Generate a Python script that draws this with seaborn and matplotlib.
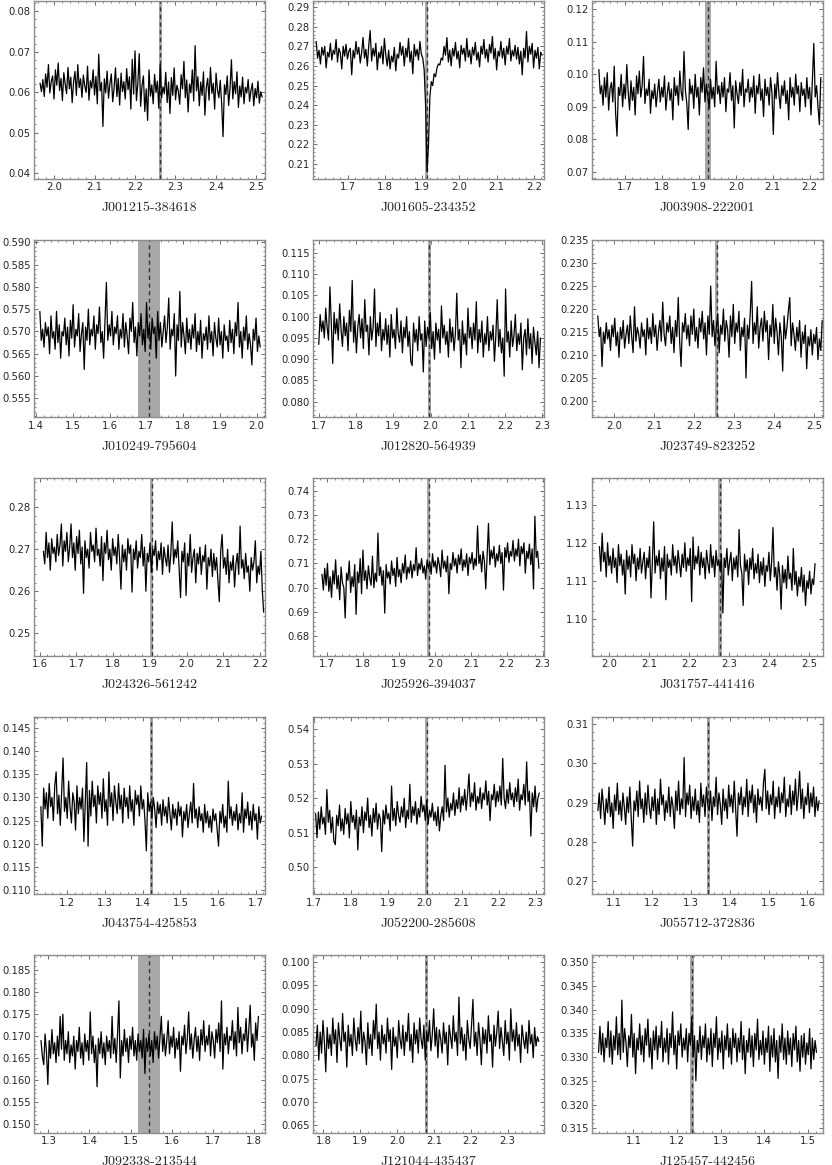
import numpy as np
import matplotlib
matplotlib.use("Agg")
import matplotlib.pyplot as plt
import seaborn as sns
from matplotlib.ticker import MultipleLocator, AutoMinorLocator

sns.set_theme(style="ticks")
plt.rcParams['font.family'] = ['DejaVu Sans']

# ---------------------------
# object names, wavelength ranges and masked region
# ---------------------------
names = ["J001215-384618", "J001605-234352", "J003908-222001",
         "J010249-795604", "J012820-564939", "J023749-823252",
         "J024326-561242", "J025926-394037", "J031757-441416",
         "J043754-425853", "J052200-285608", "J055712-372836",
         "J092338-213544", "J121044-435437", "J125457-442456"]

wl_start = [1.965, 1.615, 1.630, 1.410, 1.700, 1.960, 1.610, 1.685, 1.975,
            1.130, 1.705, 1.060, 1.282, 1.780, 1.020]
wl_end = [2.515, 2.222, 2.230, 2.010, 2.295, 2.520, 2.210, 2.290, 2.515,
          1.715, 2.310, 1.630, 1.811, 2.385, 1.520]

band_center = [2.263, 1.912, 1.925, 1.707, 1.996, 2.257, 1.905, 1.983, 2.277,
               1.422, 2.005, 1.345, 1.545, 2.080, 1.235]
band_half = [0.003, 0.004, 0.008, 0.030, 0.004, 0.004, 0.004, 0.004, 0.005,
             0.004, 0.005, 0.005, 0.027, 0.004, 0.005]

x_lo = [1.950, 1.6065, 1.6115, 1.394, 1.6846, 1.9456, 1.5845, 1.660, 1.9564,
        1.1118, 1.698, 1.045, 1.265, 1.772, 1.005]
x_hi = [2.522, 2.227, 2.236, 2.023, 2.3045, 2.522, 2.2136, 2.304, 2.535,
        1.724, 2.3227, 1.640, 1.827, 2.399, 1.535]
y_lo = [0.0385, 0.2024, 0.0678, 0.5507, 0.0763, 0.1964, 0.2446, 0.6718, 1.0902,
        0.1091, 0.4921, 0.2667, 0.1480, 0.0634, 0.3140]
y_hi = [0.0825, 0.2930, 0.1225, 0.5906, 0.1181, 0.2351, 0.2869, 0.7452, 1.1370,
        0.1474, 0.5436, 0.3119, 0.1884, 0.1015, 0.3515]
y_step = [0.01, 0.01, 0.01, 0.005, 0.005, 0.005, 0.01, 0.01, 0.01,
          0.005, 0.01, 0.01, 0.005, 0.005, 0.005]

# ---------------------------
# flux values
# ---------------------------
flux_01 = [0.0622, 0.0601, 0.0631, 0.0589, 0.0645, 0.0612, 0.0668, 0.0598, 0.0626, 0.0640,
           0.0583, 0.0655, 0.0617, 0.0672, 0.0604, 0.0634, 0.0579, 0.0648, 0.0620, 0.0596,
           0.0661, 0.0608, 0.0637, 0.0574, 0.0626, 0.0651, 0.0592, 0.0668, 0.0611, 0.0633,
           0.0587, 0.0642, 0.0615, 0.0599, 0.0664, 0.0580, 0.0628, 0.0610, 0.0655, 0.0593,
           0.0639, 0.0571, 0.0694, 0.0603, 0.0624, 0.0515, 0.0633, 0.0598, 0.0652, 0.0585,
           0.0621, 0.0645, 0.0576, 0.0610, 0.0660, 0.0589, 0.0634, 0.0568, 0.0647, 0.0601,
           0.0626, 0.0583, 0.0658, 0.0606, 0.0638, 0.0558, 0.0681, 0.0595, 0.0702, 0.0579,
           0.0622, 0.0695, 0.0565, 0.0616, 0.0640, 0.0552, 0.0608, 0.0530, 0.0655, 0.0590,
           0.0618, 0.0571, 0.0644, 0.0599, 0.0627, 0.0560, 0.0668, 0.0585, 0.0613, 0.0596,
           0.0649, 0.0574, 0.0625, 0.0547, 0.0636, 0.0592, 0.0660, 0.0581, 0.0617, 0.0602,
           0.0570, 0.0643, 0.0608, 0.0676, 0.0586, 0.0630, 0.0551, 0.0620, 0.0598, 0.0655,
           0.0578, 0.0715, 0.0603, 0.0638, 0.0566, 0.0625, 0.0592, 0.0650, 0.0543, 0.0611,
           0.0634, 0.0580, 0.0661, 0.0597, 0.0622, 0.0558, 0.0647, 0.0605, 0.0586, 0.0629,
           0.0572, 0.0490, 0.0618, 0.0594, 0.0640, 0.0567, 0.0609, 0.0680, 0.0583, 0.0626,
           0.0596, 0.0650, 0.0562, 0.0615, 0.0588, 0.0637, 0.0571, 0.0612, 0.0598, 0.0631,
           0.0577, 0.0604, 0.0622, 0.0566, 0.0609, 0.0586, 0.0627, 0.0573, 0.0601, 0.0588]

flux_02 = [0.2725, 0.2640, 0.2680, 0.2610, 0.2695, 0.2655, 0.2700, 0.2590, 0.2670, 0.2645,
           0.2715, 0.2630, 0.2680, 0.2660, 0.2735, 0.2620, 0.2690, 0.2665, 0.2585, 0.2700,
           0.2650, 0.2710, 0.2635, 0.2675, 0.2690, 0.2555, 0.2680, 0.2640, 0.2725, 0.2660,
           0.2695, 0.2615, 0.2670, 0.2745, 0.2640, 0.2685, 0.2600, 0.2705, 0.2780, 0.2625,
           0.2690, 0.2650, 0.2715, 0.2580, 0.2670, 0.2640, 0.2700, 0.2610, 0.2740, 0.2655,
           0.2600, 0.2680, 0.2585, 0.2650, 0.2620, 0.2695, 0.2575, 0.2660, 0.2640, 0.2720,
           0.2655, 0.2700, 0.2600, 0.2690, 0.2645, 0.2740, 0.2620, 0.2675, 0.2560, 0.2710,
           0.2650, 0.2685, 0.2630, 0.2725, 0.2660, 0.2640, 0.2580, 0.2400, 0.2060, 0.2190,
           0.2440, 0.2520, 0.2500, 0.2560, 0.2545, 0.2590, 0.2610, 0.2605, 0.2640, 0.2630,
           0.2700, 0.2655, 0.2745, 0.2620, 0.2680, 0.2600, 0.2690, 0.2650, 0.2720, 0.2635,
           0.2675, 0.2590, 0.2705, 0.2660, 0.2690, 0.2625, 0.2740, 0.2645, 0.2680, 0.2610,
           0.2695, 0.2655, 0.2720, 0.2630, 0.2670, 0.2595, 0.2700, 0.2660, 0.2735, 0.2640,
           0.2685, 0.2620, 0.2710, 0.2665, 0.2750, 0.2635, 0.2690, 0.2580, 0.2675, 0.2650,
           0.2725, 0.2640, 0.2690, 0.2605, 0.2700, 0.2660, 0.2740, 0.2625, 0.2680, 0.2650,
           0.2705, 0.2635, 0.2695, 0.2610, 0.2675, 0.2555, 0.2690, 0.2640, 0.2775, 0.2620,
           0.2700, 0.2660, 0.2715, 0.2590, 0.2680, 0.2640, 0.2695, 0.2585, 0.2670, 0.2655]

flux_03 = [0.1015, 0.0940, 0.0965, 0.0905, 0.0990, 0.0930, 0.1005, 0.0890, 0.0955, 0.0975,
           0.0915, 0.1025, 0.0880, 0.0810, 0.0960, 0.0935, 0.1000, 0.0900, 0.0970, 0.0925,
           0.1030, 0.0945, 0.0890, 0.0980, 0.0920, 0.0960, 0.0875, 0.0995, 0.0940, 0.1010,
           0.0930, 0.0965, 0.1055, 0.0910, 0.0955, 0.0935, 0.0985, 0.0880, 0.0950, 0.0925,
           0.0970, 0.0900, 0.0945, 0.0985, 0.0915, 0.0960, 0.0930, 0.0995, 0.0890, 0.0940,
           0.0975, 0.0920, 0.0955, 0.0860, 0.0990, 0.0935, 0.0965, 0.0905, 0.1010, 0.0945,
           0.0920, 0.1070, 0.0950, 0.0910, 0.0830, 0.0985, 0.0940, 0.0965, 0.0895, 0.1000,
           0.0930, 0.0960, 0.0875, 0.0990, 0.0945, 0.1020, 0.0915, 0.0970, 0.0935, 0.0895,
           0.0985, 0.0925, 0.0960, 0.0900, 0.1040, 0.0940, 0.0965, 0.0910, 0.0975, 0.0930,
           0.0990, 0.0885, 0.0955, 0.0945, 0.1005, 0.0920, 0.0965, 0.0835, 0.0980, 0.0940,
           0.0910, 0.0975, 0.0935, 0.1015, 0.0900, 0.0955, 0.0945, 0.0985, 0.0915, 0.0960,
           0.0930, 0.0995, 0.0880, 0.0965, 0.0940, 0.1000, 0.0920, 0.0955, 0.0870, 0.0985,
           0.0935, 0.0960, 0.0905, 0.0990, 0.0945, 0.0815, 0.0970, 0.0925, 0.1005, 0.0940,
           0.0895, 0.0965, 0.0935, 0.0980, 0.0910, 0.0950, 0.0860, 0.0990, 0.0930, 0.0960,
           0.0905, 0.1000, 0.0940, 0.0965, 0.0885, 0.0975, 0.0935, 0.0955, 0.0900, 0.0990,
           0.0925, 0.0960, 0.0875, 0.0985, 0.1095, 0.0930, 0.0965, 0.0900, 0.0845, 0.0990]

flux_04 = [0.5745, 0.5680, 0.5705, 0.5665, 0.5720, 0.5690, 0.5710, 0.5650, 0.5735, 0.5685,
           0.5700, 0.5660, 0.5745, 0.5675, 0.5715, 0.5640, 0.5700, 0.5690, 0.5730, 0.5670,
           0.5710, 0.5645, 0.5725, 0.5685, 0.5760, 0.5665, 0.5705, 0.5690, 0.5740, 0.5655,
           0.5695, 0.5720, 0.5615, 0.5710, 0.5680, 0.5750, 0.5670, 0.5705, 0.5690, 0.5735,
           0.5660, 0.5715, 0.5695, 0.5755, 0.5675, 0.5700, 0.5640, 0.5725, 0.5810, 0.5680,
           0.5715, 0.5690, 0.5745, 0.5670, 0.5710, 0.5695, 0.5735, 0.5660, 0.5705, 0.5685,
           0.5740, 0.5665, 0.5720, 0.5690, 0.5650, 0.5730, 0.5700, 0.5765, 0.5675, 0.5710,
           0.5645, 0.5720, 0.5690, 0.5740, 0.5670, 0.5705, 0.5655, 0.5765, 0.5685, 0.5715,
           0.5660, 0.5730, 0.5695, 0.5710, 0.5640, 0.5745, 0.5680, 0.5720, 0.5665, 0.5700,
           0.5735, 0.5675, 0.5710, 0.5775, 0.5660, 0.5705, 0.5690, 0.5740, 0.5600, 0.5715,
           0.5680, 0.5790, 0.5665, 0.5720, 0.5690, 0.5650, 0.5730, 0.5675, 0.5705, 0.5660,
           0.5715, 0.5685, 0.5740, 0.5655, 0.5700, 0.5670, 0.5725, 0.5640, 0.5695, 0.5680,
           0.5710, 0.5660, 0.5735, 0.5675, 0.5700, 0.5645, 0.5720, 0.5685, 0.5665, 0.5730,
           0.5670, 0.5700, 0.5640, 0.5715, 0.5680, 0.5690, 0.5655, 0.5725, 0.5675, 0.5705,
           0.5650, 0.5720, 0.5690, 0.5765, 0.5665, 0.5700, 0.5640, 0.5710, 0.5680, 0.5735,
           0.5660, 0.5695, 0.5670, 0.5625, 0.5705, 0.5680, 0.5730, 0.5655, 0.5690, 0.5665]

flux_05 = [0.0935, 0.1005, 0.0965, 0.0990, 0.0950, 0.1020, 0.0975, 0.0945, 0.1070, 0.0985,
           0.0890, 0.1010, 0.0960, 0.0995, 0.0945, 0.1030, 0.0970, 0.0930, 0.1000, 0.0955,
           0.0985, 0.0920, 0.1015, 0.0965, 0.1085, 0.0940, 0.0990, 0.0915, 0.0975, 0.1005,
           0.0950, 0.0995, 0.0925, 0.1040, 0.0965, 0.0980, 0.0910, 0.1000, 0.0945, 0.0975,
           0.1065, 0.0930, 0.0985, 0.0955, 0.1010, 0.0920, 0.0970, 0.0945, 0.0995, 0.0935,
           0.0980, 0.0905, 0.1005, 0.0950, 0.0970, 0.0925, 0.1020, 0.0960, 0.0940, 0.0990,
           0.0915, 0.0975, 0.0950, 0.1000, 0.0930, 0.0965, 0.0895, 0.0885, 0.0985, 0.0940,
           0.0970, 0.0920, 0.1000, 0.0945, 0.0960, 0.0870, 0.0990, 0.0930, 0.0975, 0.0950,
           0.1010, 0.0925, 0.0965, 0.0900, 0.0985, 0.0945, 0.0970, 0.0915, 0.1025, 0.0950,
           0.0980, 0.0935, 0.0965, 0.0905, 0.0995, 0.0940, 0.0975, 0.0920, 0.0960, 0.1055,
           0.0945, 0.0970, 0.0880, 0.0990, 0.0935, 0.0960, 0.0910, 0.1020, 0.0950, 0.0975,
           0.0925, 0.0985, 0.0945, 0.1035, 0.0915, 0.0970, 0.0940, 0.0990, 0.0905, 0.0960,
           0.0935, 0.1000, 0.0920, 0.0965, 0.0945, 0.0980, 0.0895, 0.0955, 0.1040, 0.0930,
           0.0970, 0.0915, 0.0950, 0.0860, 0.1065, 0.0940, 0.0965, 0.0905, 0.0990, 0.0930,
           0.0955, 0.1005, 0.0920, 0.0960, 0.0935, 0.0985, 0.0875, 0.0950, 0.0970, 0.0910,
           0.0995, 0.0925, 0.0960, 0.0890, 0.0975, 0.0940, 0.0910, 0.0965, 0.0880, 0.0950]

flux_06 = [0.2185, 0.2140, 0.2160, 0.2075, 0.2150, 0.2125, 0.2170, 0.2135, 0.2155, 0.2110,
           0.2165, 0.2140, 0.2180, 0.2120, 0.2150, 0.2095, 0.2160, 0.2135, 0.2175, 0.2115,
           0.2145, 0.2165, 0.2125, 0.2185, 0.2140, 0.2105, 0.2205, 0.2130, 0.2160, 0.2145,
           0.2115, 0.2170, 0.2140, 0.2155, 0.2100, 0.2180, 0.2135, 0.2160, 0.2125, 0.2190,
           0.2140, 0.2165, 0.2110, 0.2150, 0.2175, 0.2130, 0.2215, 0.2145, 0.2120, 0.2170,
           0.2150, 0.2185, 0.2125, 0.2160, 0.2105, 0.2175, 0.2140, 0.2225, 0.2130, 0.2075,
           0.2170, 0.2150, 0.2190, 0.2135, 0.2165, 0.2120, 0.2185, 0.2145, 0.2200, 0.2130,
           0.2160, 0.2115, 0.2180, 0.2150, 0.2195, 0.2135, 0.2170, 0.2100, 0.2185, 0.2145,
           0.2250, 0.2140, 0.2175, 0.2120, 0.2160, 0.2190, 0.2105, 0.2165, 0.2145, 0.2200,
           0.2130, 0.2175, 0.2155, 0.2095, 0.2185, 0.2140, 0.2210, 0.2125, 0.2170, 0.2150,
           0.2195, 0.2110, 0.2160, 0.2140, 0.2180, 0.2050, 0.2165, 0.2135, 0.2190, 0.2260,
           0.2125, 0.2170, 0.2145, 0.2205, 0.2115, 0.2160, 0.2180, 0.2130, 0.2195, 0.2150,
           0.2175, 0.2090, 0.2165, 0.2140, 0.2210, 0.2125, 0.2180, 0.2150, 0.2100, 0.2170,
           0.2140, 0.2065, 0.2185, 0.2135, 0.2160, 0.2195, 0.2225, 0.2120, 0.2170, 0.2145,
           0.2110, 0.2160, 0.2130, 0.2175, 0.2095, 0.2150, 0.2125, 0.2165, 0.2070, 0.2140,
           0.2120, 0.2155, 0.2100, 0.2145, 0.2125, 0.2160, 0.2090, 0.2135, 0.2110, 0.2175]

flux_07 = [0.2695, 0.2665, 0.2740, 0.2680, 0.2715, 0.2650, 0.2725, 0.2690, 0.2705, 0.2670,
           0.2735, 0.2685, 0.2710, 0.2760, 0.2660, 0.2720, 0.2695, 0.2740, 0.2670, 0.2705,
           0.2760, 0.2680, 0.2715, 0.2650, 0.2730, 0.2690, 0.2745, 0.2665, 0.2705, 0.2595,
           0.2720, 0.2680, 0.2700, 0.2655, 0.2740, 0.2695, 0.2710, 0.2670, 0.2750, 0.2685,
           0.2700, 0.2660, 0.2730, 0.2625, 0.2715, 0.2690, 0.2745, 0.2675, 0.2700, 0.2650,
           0.2725, 0.2685, 0.2705, 0.2665, 0.2735, 0.2680, 0.2605, 0.2710, 0.2670, 0.2700,
           0.2650, 0.2725, 0.2690, 0.2710, 0.2598, 0.2700, 0.2675, 0.2720, 0.2655, 0.2695,
           0.2680, 0.2735, 0.2660, 0.2705, 0.2600, 0.2690, 0.2670, 0.2715, 0.2645, 0.2700,
           0.2685, 0.2720, 0.2650, 0.2695, 0.2675, 0.2715, 0.2640, 0.2705, 0.2680, 0.2660,
           0.2710, 0.2645, 0.2690, 0.2765, 0.2665, 0.2700, 0.2680, 0.2720, 0.2655, 0.2585,
           0.2695, 0.2670, 0.2715, 0.2590, 0.2690, 0.2660, 0.2735, 0.2645, 0.2680, 0.2700,
           0.2620, 0.2690, 0.2665, 0.2705, 0.2640, 0.2685, 0.2670, 0.2710, 0.2605, 0.2680,
           0.2660, 0.2700, 0.2635, 0.2690, 0.2650, 0.2680, 0.2625, 0.2575, 0.2695, 0.2735,
           0.2655, 0.2680, 0.2640, 0.2700, 0.2620, 0.2670, 0.2650, 0.2685, 0.2610, 0.2665,
           0.2690, 0.2640, 0.2755, 0.2655, 0.2675, 0.2630, 0.2690, 0.2645, 0.2660, 0.2600,
           0.2680, 0.2650, 0.2670, 0.2720, 0.2620, 0.2660, 0.2640, 0.2695, 0.2605, 0.2550]

flux_08 = [0.7055, 0.6990, 0.7080, 0.7010, 0.7100, 0.6985, 0.7045, 0.6960, 0.7070, 0.7015,
           0.7115, 0.6995, 0.7050, 0.6950, 0.7085, 0.7020, 0.7000, 0.6875, 0.7060, 0.7030,
           0.7110, 0.6980, 0.7045, 0.7005, 0.7095, 0.6890, 0.7065, 0.7020, 0.7120, 0.6975,
           0.7155, 0.7030, 0.7070, 0.6995, 0.7090, 0.7040, 0.7010, 0.7130, 0.7000, 0.7060,
           0.7025, 0.7225, 0.7050, 0.7085, 0.7010, 0.7070, 0.6895, 0.7095, 0.7040, 0.7065,
           0.7015, 0.7110, 0.7050, 0.7080, 0.7005, 0.7125, 0.7045, 0.7075, 0.7020, 0.7100,
           0.7060, 0.7135, 0.7035, 0.7085, 0.7060, 0.7110, 0.7040, 0.7095, 0.7070, 0.7165,
           0.7050, 0.7100, 0.7075, 0.7120, 0.7060, 0.7090, 0.7035, 0.7115, 0.7080, 0.7105,
           0.7055, 0.7140, 0.7085, 0.7110, 0.7060, 0.7125, 0.7095, 0.7045, 0.7155, 0.7080,
           0.7110, 0.7065, 0.7130, 0.6975, 0.7100, 0.7075, 0.7145, 0.7090, 0.7120, 0.7060,
           0.7135, 0.7095, 0.7160, 0.7070, 0.7115, 0.7085, 0.7140, 0.7050, 0.7125, 0.7100,
           0.7145, 0.7075, 0.7120, 0.7090, 0.7255, 0.7100, 0.7135, 0.7065, 0.7150, 0.7110,
           0.6995, 0.7130, 0.7265, 0.7095, 0.7155, 0.7120, 0.7170, 0.7085, 0.7140, 0.7110,
           0.7175, 0.7100, 0.7145, 0.6990, 0.7165, 0.7125, 0.7185, 0.7105, 0.7150, 0.7130,
           0.7195, 0.7110, 0.7160, 0.7130, 0.7200, 0.7090, 0.7170, 0.7140, 0.7185, 0.7060,
           0.7150, 0.7120, 0.7180, 0.7095, 0.7160, 0.6995, 0.7295, 0.7125, 0.7150, 0.7080]

flux_09 = [1.1190, 1.1125, 1.1225, 1.1150, 1.1175, 1.1110, 1.1200, 1.1140, 1.1165, 1.1120,
           1.1185, 1.1135, 1.1160, 1.1095, 1.1195, 1.1140, 1.1170, 1.1115, 1.1155, 1.1065,
           1.1180, 1.1130, 1.1165, 1.1110, 1.1195, 1.1145, 1.1170, 1.1100, 1.1160, 1.1130,
           1.1185, 1.1120, 1.1150, 1.1175, 1.1105, 1.1160, 1.1135, 1.1190, 1.1055, 1.1145,
           1.1255, 1.1120, 1.1165, 1.1140, 1.1180, 1.1105, 1.1160, 1.1125, 1.1190, 1.1050,
           1.1170, 1.1135, 1.1155, 1.1115, 1.1195, 1.1140, 1.1165, 1.1120, 1.1180, 1.1145,
           1.1110, 1.1170, 1.1135, 1.1200, 1.1125, 1.1160, 1.1140, 1.1185, 1.1045, 1.1215,
           1.1130, 1.1165, 1.1145, 1.1190, 1.1115, 1.1175, 1.1135, 1.1160, 1.1105, 1.1180,
           1.1145, 1.1120, 1.1195, 1.1135, 1.1165, 1.1110, 1.1180, 1.1140, 1.1155, 1.1125,
           1.1170, 1.1015, 1.1160, 1.1135, 1.1185, 1.1115, 1.1150, 1.1175, 1.1100, 1.1160,
           1.1130, 1.1165, 1.1110, 1.1235, 1.1140, 1.1120, 1.1035, 1.1170, 1.1125, 1.1155,
           1.1090, 1.1160, 1.1130, 1.1185, 1.1105, 1.1145, 1.1120, 1.1170, 1.1095, 1.1150,
           1.1115, 1.1160, 1.1085, 1.1140, 1.1125, 1.1175, 1.1100, 1.1150, 1.1240, 1.1110,
           1.1135, 1.1075, 1.1150, 1.1115, 1.1025, 1.1140, 1.1095, 1.1130, 1.1080, 1.1165,
           1.1105, 1.1120, 1.1075, 1.1185, 1.1090, 1.1125, 1.1060, 1.1110, 1.1085, 1.1135,
           1.1070, 1.1115, 1.1035, 1.1100, 1.1080, 1.1125, 1.1065, 1.1105, 1.1090, 1.1145]

flux_10 = [0.1280, 0.1195, 0.1320, 0.1275, 0.1310, 0.1255, 0.1330, 0.1280, 0.1300, 0.1250,
           0.1325, 0.1355, 0.1265, 0.1305, 0.1240, 0.1315, 0.1385, 0.1270, 0.1300, 0.1255,
           0.1335, 0.1280, 0.1245, 0.1310, 0.1290, 0.1230, 0.1325, 0.1265, 0.1300, 0.1275,
           0.1320, 0.1205, 0.1290, 0.1375, 0.1195, 0.1315, 0.1260, 0.1335, 0.1280, 0.1305,
           0.1245, 0.1325, 0.1285, 0.1310, 0.1255, 0.1340, 0.1270, 0.1295, 0.1240, 0.1355,
           0.1280, 0.1310, 0.1250, 0.1325, 0.1290, 0.1265, 0.1330, 0.1275, 0.1305, 0.1245,
           0.1320, 0.1280, 0.1300, 0.1255, 0.1325, 0.1270, 0.1295, 0.1240, 0.1315, 0.1285,
           0.1305, 0.1260, 0.1325, 0.1275, 0.1295, 0.1250, 0.1185, 0.1310, 0.1270, 0.1290,
           0.1255, 0.1300, 0.1275, 0.1235, 0.1290, 0.1265, 0.1285, 0.1240, 0.1295, 0.1260,
           0.1280, 0.1245, 0.1300, 0.1265, 0.1230, 0.1285, 0.1255, 0.1275, 0.1240, 0.1290,
           0.1260, 0.1280, 0.1215, 0.1270, 0.1250, 0.1285, 0.1235, 0.1265, 0.1290, 0.1245,
           0.1330, 0.1255, 0.1275, 0.1235, 0.1280, 0.1250, 0.1265, 0.1225, 0.1285, 0.1245,
           0.1270, 0.1235, 0.1260, 0.1225, 0.1275, 0.1250, 0.1265, 0.1230, 0.1195, 0.1270,
           0.1245, 0.1285, 0.1235, 0.1260, 0.1225, 0.1335, 0.1255, 0.1280, 0.1240, 0.1270,
           0.1250, 0.1285, 0.1230, 0.1265, 0.1245, 0.1310, 0.1225, 0.1275, 0.1255, 0.1290,
           0.1240, 0.1270, 0.1230, 0.1285, 0.1250, 0.1265, 0.1210, 0.1280, 0.1245, 0.1260]

flux_11 = [0.5155, 0.5085, 0.5160, 0.5110, 0.5175, 0.5125, 0.5145, 0.5095, 0.5225, 0.5130,
           0.5165, 0.5100, 0.5145, 0.5075, 0.5065, 0.5150, 0.5120, 0.5180, 0.5105, 0.5140,
           0.5095, 0.5170, 0.5125, 0.5155, 0.5085, 0.5190, 0.5130, 0.5150, 0.5110, 0.5165,
           0.5050, 0.5145, 0.5120, 0.5175, 0.5100, 0.5160, 0.5135, 0.5200, 0.5115, 0.5150,
           0.5090, 0.5170, 0.5130, 0.5185, 0.5110, 0.5155, 0.5140, 0.5045, 0.5165, 0.5125,
           0.5180, 0.5140, 0.5155, 0.5105, 0.5235, 0.5135, 0.5170, 0.5120, 0.5190, 0.5150,
           0.5130, 0.5175, 0.5145, 0.5200, 0.5115, 0.5165, 0.5140, 0.5240, 0.5130, 0.5175,
           0.5150, 0.5190, 0.5125, 0.5170, 0.5145, 0.5205, 0.5160, 0.5180, 0.5135, 0.5195,
           0.5125, 0.5165, 0.5145, 0.5185, 0.5135, 0.5160, 0.5120, 0.5175, 0.5105, 0.5150,
           0.5175, 0.5135, 0.5295, 0.5160, 0.5200, 0.5145, 0.5185, 0.5165, 0.5215, 0.5150,
           0.5195, 0.5170, 0.5230, 0.5160, 0.5205, 0.5180, 0.5225, 0.5165, 0.5210, 0.5270,
           0.5175, 0.5215, 0.5190, 0.5245, 0.5165, 0.5205, 0.5185, 0.5230, 0.5170, 0.5215,
           0.5195, 0.5250, 0.5180, 0.5220, 0.5135, 0.5210, 0.5195, 0.5240, 0.5175, 0.5220,
           0.5190, 0.5235, 0.5180, 0.5315, 0.5200, 0.5170, 0.5225, 0.5185, 0.5245, 0.5195,
           0.5215, 0.5175, 0.5230, 0.5190, 0.5255, 0.5165, 0.5210, 0.5195, 0.5240, 0.5180,
           0.5305, 0.5190, 0.5220, 0.5090, 0.5215, 0.5175, 0.5235, 0.5160, 0.5200, 0.5215]

flux_12 = [0.2880, 0.2925, 0.2860, 0.2935, 0.2895, 0.2845, 0.2910, 0.2875, 0.2940, 0.2865,
           0.2900, 0.2835, 0.2920, 0.2880, 0.2950, 0.2870, 0.2905, 0.2855, 0.2925, 0.2890,
           0.2845, 0.2915, 0.2875, 0.2940, 0.2860, 0.2790, 0.2905, 0.2880, 0.2930, 0.2865,
           0.2955, 0.2885, 0.2910, 0.2850, 0.2925, 0.2870, 0.2945, 0.2890, 0.2860, 0.2915,
           0.2880, 0.2935, 0.2845, 0.2910, 0.2870, 0.2960, 0.2895, 0.2920, 0.2855, 0.2905,
           0.2875, 0.2940, 0.2865, 0.2915, 0.2890, 0.2835, 0.2930, 0.2880, 0.2955, 0.2870,
           0.2910, 0.2885, 0.3015, 0.2865, 0.2925, 0.2895, 0.2945, 0.2860, 0.2915, 0.2880,
           0.2935, 0.2870, 0.2905, 0.2850, 0.2950, 0.2890, 0.2920, 0.2865, 0.2940, 0.2895,
           0.2880, 0.2930, 0.2855, 0.2915, 0.2890, 0.2965, 0.2870, 0.2925, 0.2895, 0.2845,
           0.2935, 0.2880, 0.2910, 0.2860, 0.2945, 0.2890, 0.2920, 0.2875, 0.2955, 0.2885,
           0.2815, 0.2925, 0.2895, 0.2940, 0.2870, 0.2915, 0.2890, 0.2960, 0.2865, 0.2930,
           0.2900, 0.2945, 0.2875, 0.2920, 0.2850, 0.2935, 0.2895, 0.2915, 0.2880, 0.2950,
           0.2985, 0.2885, 0.2930, 0.2870, 0.2920, 0.2895, 0.2955, 0.2860, 0.2915, 0.2890,
           0.2940, 0.2875, 0.2925, 0.2900, 0.2965, 0.2865, 0.2910, 0.2890, 0.2945, 0.2870,
           0.2930, 0.2895, 0.2960, 0.2880, 0.2920, 0.2980, 0.2885, 0.2935, 0.2860, 0.2915,
           0.2895, 0.2950, 0.2875, 0.2925, 0.2890, 0.2940, 0.2865, 0.2915, 0.2880, 0.2905]

flux_13 = [0.1690, 0.1655, 0.1635, 0.1705, 0.1665, 0.1590, 0.1690, 0.1650, 0.1715, 0.1660,
           0.1685, 0.1640, 0.1700, 0.1655, 0.1745, 0.1670, 0.1750, 0.1645, 0.1690, 0.1660,
           0.1710, 0.1640, 0.1680, 0.1655, 0.1700, 0.1625, 0.1690, 0.1665, 0.1720, 0.1650,
           0.1685, 0.1635, 0.1705, 0.1665, 0.1690, 0.1645, 0.1755, 0.1660, 0.1700, 0.1640,
           0.1680, 0.1585, 0.1695, 0.1660, 0.1710, 0.1650, 0.1685, 0.1635, 0.1700, 0.1665,
           0.1690, 0.1650, 0.1745, 0.1660, 0.1695, 0.1640, 0.1705, 0.1780, 0.1605, 0.1690,
           0.1655, 0.1715, 0.1665, 0.1695, 0.1640, 0.1700, 0.1670, 0.1720, 0.1655, 0.1690,
           0.1645, 0.1705, 0.1665, 0.1690, 0.1650, 0.1715, 0.1615, 0.1695, 0.1665, 0.1705,
           0.1655, 0.1690, 0.1640, 0.1710, 0.1670, 0.1700, 0.1650, 0.1695, 0.1745, 0.1665,
           0.1705, 0.1655, 0.1690, 0.1735, 0.1660, 0.1700, 0.1675, 0.1720, 0.1650, 0.1695,
           0.1670, 0.1710, 0.1620, 0.1700, 0.1680, 0.1725, 0.1660, 0.1695, 0.1755, 0.1670,
           0.1705, 0.1650, 0.1690, 0.1720, 0.1665, 0.1700, 0.1645, 0.1715, 0.1680, 0.1735,
           0.1665, 0.1700, 0.1680, 0.1725, 0.1655, 0.1710, 0.1690, 0.1650, 0.1715, 0.1685,
           0.1730, 0.1665, 0.1780, 0.1625, 0.1705, 0.1680, 0.1720, 0.1660, 0.1700, 0.1690,
           0.1735, 0.1670, 0.1710, 0.1655, 0.1765, 0.1685, 0.1720, 0.1660, 0.1705, 0.1690,
           0.1740, 0.1665, 0.1715, 0.1770, 0.1675, 0.1705, 0.1645, 0.1730, 0.1690, 0.1745]

flux_14 = [0.0820, 0.0865, 0.0790, 0.0850, 0.0805, 0.0875, 0.0830, 0.0765, 0.0860, 0.0815,
           0.0845, 0.0800, 0.0880, 0.0825, 0.0855, 0.0785, 0.0870, 0.0835, 0.0810, 0.0890,
           0.0830, 0.0850, 0.0775, 0.0865, 0.0820, 0.0845, 0.0800, 0.0880, 0.0835, 0.0810,
           0.0860, 0.0825, 0.0895, 0.0805, 0.0850, 0.0830, 0.0780, 0.0870, 0.0815, 0.0845,
           0.0800, 0.0875, 0.0835, 0.0910, 0.0815, 0.0850, 0.0790, 0.0865, 0.0825, 0.0845,
           0.0805, 0.0880, 0.0830, 0.0855, 0.0770, 0.0860, 0.0820, 0.0840, 0.0795, 0.0875,
           0.0835, 0.0815, 0.0865, 0.0800, 0.0850, 0.0830, 0.0890, 0.0810, 0.0845, 0.0785,
           0.0870, 0.0825, 0.0855, 0.0805, 0.0880, 0.0835, 0.0815, 0.0865, 0.0790, 0.0850,
           0.0830, 0.0875, 0.0810, 0.0845, 0.0900, 0.0820, 0.0860, 0.0795, 0.0855, 0.0835,
           0.0805, 0.0870, 0.0825, 0.0850, 0.0780, 0.0865, 0.0840, 0.0815, 0.0885, 0.0830,
           0.0850, 0.0800, 0.0925, 0.0825, 0.0860, 0.0810, 0.0845, 0.0790, 0.0875, 0.0835,
           0.0815, 0.0865, 0.0920, 0.0820, 0.0850, 0.0800, 0.0870, 0.0835, 0.0780, 0.0860,
           0.0825, 0.0855, 0.0805, 0.0885, 0.0830, 0.0845, 0.0775, 0.0865, 0.0820, 0.0850,
           0.0895, 0.0815, 0.0860, 0.0830, 0.0800, 0.0875, 0.0825, 0.0850, 0.0790, 0.0900,
           0.0830, 0.0855, 0.0810, 0.0870, 0.0820, 0.0845, 0.0785, 0.0865, 0.0835, 0.0815,
           0.0850, 0.0805, 0.0875, 0.0825, 0.0845, 0.0795, 0.0860, 0.0820, 0.0840, 0.0830]

flux_15 = [0.3310, 0.3365, 0.3305, 0.3350, 0.3290, 0.3340, 0.3320, 0.3375, 0.3300, 0.3355,
           0.3285, 0.3345, 0.3315, 0.3385, 0.3305, 0.3350, 0.3295, 0.3420, 0.3310, 0.3360,
           0.3330, 0.3280, 0.3345, 0.3320, 0.3390, 0.3300, 0.3350, 0.3265, 0.3340, 0.3315,
           0.3370, 0.3305, 0.3345, 0.3290, 0.3360, 0.3325, 0.3380, 0.3300, 0.3340, 0.3275,
           0.3355, 0.3315, 0.3365, 0.3295, 0.3345, 0.3320, 0.3375, 0.3290, 0.3340, 0.3310,
           0.3360, 0.3285, 0.3350, 0.3320, 0.3395, 0.3305, 0.3345, 0.3275, 0.3355, 0.3325,
           0.3370, 0.3300, 0.3340, 0.3315, 0.3360, 0.3290, 0.3350, 0.3325, 0.3385, 0.3300,
           0.3345, 0.3250, 0.3335, 0.3310, 0.3365, 0.3295, 0.3345, 0.3320, 0.3370, 0.3290,
           0.3340, 0.3305, 0.3360, 0.3280, 0.3350, 0.3320, 0.3385, 0.3295, 0.3340, 0.3310,
           0.3355, 0.3275, 0.3345, 0.3315, 0.3370, 0.3300, 0.3340, 0.3285, 0.3360, 0.3320,
           0.3350, 0.3290, 0.3340, 0.3310, 0.3375, 0.3295, 0.3345, 0.3265, 0.3335, 0.3310,
           0.3360, 0.3300, 0.3345, 0.3280, 0.3350, 0.3315, 0.3380, 0.3295, 0.3335, 0.3305,
           0.3355, 0.3285, 0.3340, 0.3310, 0.3365, 0.3270, 0.3345, 0.3300, 0.3360, 0.3290,
           0.3335, 0.3255, 0.3345, 0.3310, 0.3370, 0.3295, 0.3340, 0.3285, 0.3355, 0.3305,
           0.3340, 0.3280, 0.3350, 0.3315, 0.3365, 0.3290, 0.3335, 0.3270, 0.3345, 0.3300,
           0.3350, 0.3285, 0.3330, 0.3305, 0.3360, 0.3275, 0.3340, 0.3295, 0.3335, 0.3310]

fluxes = [flux_01, flux_02, flux_03, flux_04, flux_05, flux_06, flux_07, flux_08,
          flux_09, flux_10, flux_11, flux_12, flux_13, flux_14, flux_15]

# ---------------------------
# figure
# ---------------------------
fig, axes = plt.subplots(5, 3, figsize=(8.32, 11.65), dpi=100)
fig.subplots_adjust(left=34/832, right=823/832, top=0.999, bottom=0.0275,
                    wspace=0.208, hspace=0.341)

for i, ax in enumerate(axes.flat):
    wl = np.linspace(wl_start[i], wl_end[i], len(fluxes[i]))
    ax.axvspan(band_center[i] - band_half[i], band_center[i] + band_half[i],
               color='#a8a8a8', lw=0, zorder=1)
    ax.axvline(band_center[i], color='#333333', lw=1.0, ls=(0, (3, 2.5)), zorder=2)
    sns.lineplot(x=wl, y=fluxes[i], ax=ax, color='black', linewidth=0.9,
                 estimator=None, zorder=3)
    ax.set_xlim(x_lo[i], x_hi[i])
    ax.set_ylim(y_lo[i], y_hi[i])
    ax.xaxis.set_major_locator(MultipleLocator(0.1))
    ax.yaxis.set_major_locator(MultipleLocator(y_step[i]))
    ax.xaxis.set_minor_locator(AutoMinorLocator(5))
    ax.yaxis.set_minor_locator(AutoMinorLocator(5))
    ax.tick_params(which='both', direction='in', top=True, right=True,
                   color='#555555', labelsize=7.2, pad=2.5)
    ax.tick_params(which='major', length=3, width=0.6)
    ax.tick_params(which='minor', length=1.5, width=0.5)
    for sp in ax.spines.values():
        sp.set_color('#8c8c8c')
        sp.set_linewidth(1.0)
    ax.set_xlabel(names[i], family='cmr10', fontsize=10, labelpad=7)
    ax.set_ylabel('')

fig.savefig('out.png', dpi=100)
